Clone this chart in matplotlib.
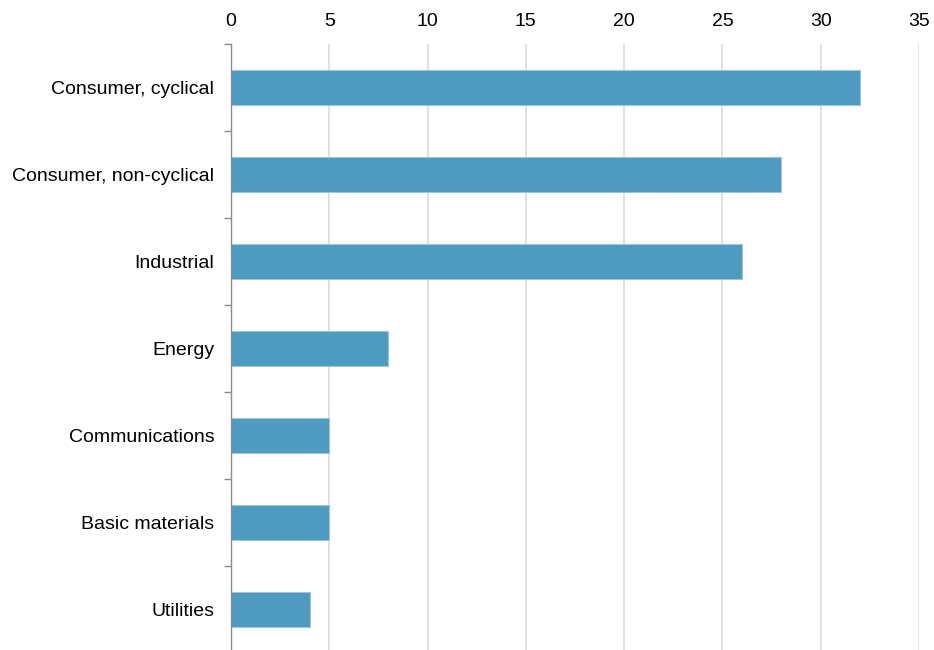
import matplotlib.pyplot as plt
import numpy as np

plt.rcParams['font.family'] = ['Liberation Sans', 'DejaVu Sans']

categories = ['Consumer, cyclical', 'Consumer, non-cyclical', 'Industrial',
              'Energy', 'Communications', 'Basic materials', 'Utilities']
values = [32, 28, 26, 8, 5, 5, 4]
xticks = [0, 5, 10, 15, 20, 25, 30, 35]

bar_color = '#4F9AC1'
grid_color = '#d9d9d9'
axis_color = '#8c8c8c'

fig = plt.figure(figsize=(9.34, 6.5), dpi=100)
ax = fig.add_axes([231 / 934, 1 - 653 / 650, (919 - 231) / 934, 609 / 650])

y = np.arange(len(categories))
ax.barh(y, values, height=0.4, color=bar_color, edgecolor='#9cc6dc',
        linewidth=0.8, zorder=3)

ax.set_ylim(len(categories) - 0.5, -0.5)
ax.set_xlim(0, 35)
ax.set_xticks(xticks)
ax.xaxis.tick_top()
ax.tick_params(axis='x', length=0, pad=10, labelsize=14)
ax.grid(axis='x', color=grid_color, linewidth=1.1, zorder=0)

ax.set_yticks(y)
ax.set_yticklabels(categories)
ax.set_yticks(np.arange(-0.5, len(categories), 1), minor=True)
ax.tick_params(axis='y', which='major', length=0, pad=12, labelsize=14)
ax.tick_params(axis='y', which='minor', length=5, width=1, color=axis_color)

for s in ['top', 'right', 'bottom']:
    ax.spines[s].set_visible(False)
ax.spines['left'].set_color(axis_color)
ax.spines['left'].set_linewidth(1)
ax.spines['left'].set_zorder(4)

plt.savefig('out.png', dpi=100)
